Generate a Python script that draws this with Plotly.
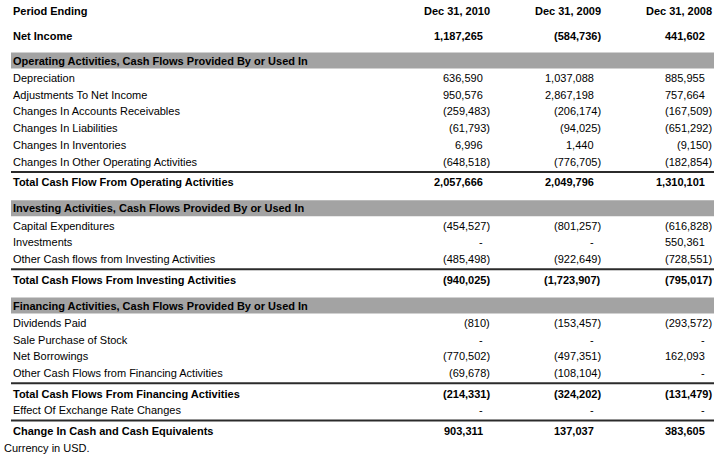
import plotly.graph_objects as go

# column headers and values, in thousands of USD
PERIODS = ["Dec 31, 2010", "Dec 31, 2009", "Dec 31, 2008"]

NET_INCOME = [1187265, -584736, 441602]

OPERATING_LABELS = [
    "Depreciation",
    "Adjustments To Net Income",
    "Changes In Accounts Receivables",
    "Changes In Liabilities",
    "Changes In Inventories",
    "Changes In Other Operating Activities",
]
OPERATING_VALUES = [
    [636590, 1037088, 885955],
    [950576, 2867198, 757664],
    [-259483, -206174, -167509],
    [-61793, -94025, -651292],
    [6996, 1440, -9150],
    [-648518, -776705, -182854],
]
OPERATING_TOTAL = [2057666, 2049796, 1310101]

INVESTING_LABELS = [
    "Capital Expenditures",
    "Investments",
    "Other Cash flows from Investing Activities",
]
INVESTING_VALUES = [
    [-454527, -801257, -616828],
    [None, None, 550361],
    [-485498, -922649, -728551],
]
INVESTING_TOTAL = [-940025, -1723907, -795017]

FINANCING_LABELS = [
    "Dividends Paid",
    "Sale Purchase of Stock",
    "Net Borrowings",
    "Other Cash Flows from Financing Activities",
]
FINANCING_VALUES = [
    [-810, -153457, -293572],
    [None, None, None],
    [-770502, -497351, 162093],
    [-69678, -108104, None],
]
FINANCING_TOTAL = [-214331, -324202, -131479]

EXCHANGE_EFFECT = [None, None, None]
CHANGE_IN_CASH = [903311, 137037, 383605]

W, H = 725, 461
FONT = "Liberation Sans, Arial, Helvetica, sans-serif"
BAR_GRAY = "#A3A3A3"
RULE = "#2B2B2B"

LABEL_X = 13
NOTE_X = 4
LEFT, RIGHT = 11, 714
COL_RIGHT = [490, 601, 712]  # right edge of ")" in each column
POS_SHIFT = 7  # positives sit left of the closing paren

GAPS = {
    ("head", "net"): 24.5,
    ("net", "section"): 25,
    ("section", "item"): 17.3,
    ("item", "item"): 16.8,
    ("item", "total"): 20.4,
    ("total", "section"): 26,
    ("total", "item"): 16.8,
    ("total", "note"): 17.5,
}


def fmt(v):
    if v is None:
        return "-"
    if v < 0:
        return "({:,})".format(-v)
    return "{:,}".format(v)


rows = [("head", "Period Ending", PERIODS), ("net", "Net Income", NET_INCOME)]
for title, labels, values, total_label, total in [
    ("Operating Activities, Cash Flows Provided By or Used In",
     OPERATING_LABELS, OPERATING_VALUES,
     "Total Cash Flow From Operating Activities", OPERATING_TOTAL),
    ("Investing Activities, Cash Flows Provided By or Used In",
     INVESTING_LABELS, INVESTING_VALUES,
     "Total Cash Flows From Investing Activities", INVESTING_TOTAL),
    ("Financing Activities, Cash Flows Provided By or Used In",
     FINANCING_LABELS, FINANCING_VALUES,
     "Total Cash Flows From Financing Activities", FINANCING_TOTAL),
]:
    rows.append(("section", title, None))
    rows += [("item", l, v) for l, v in zip(labels, values)]
    rows.append(("total", total_label, total))
rows.append(("item", "Effect Of Exchange Rate Changes", EXCHANGE_EFFECT))
rows.append(("total", "Change In Cash and Cash Equivalents", CHANGE_IN_CASH))
rows.append(("note", "Currency in USD.", None))

fig = go.Figure()
annotations = []
shapes = []
y = 11
prev = None
for kind, label, values in rows:
    if prev is not None:
        y += GAPS[(prev, kind)]
    prev = kind
    bold = kind in ("head", "net", "section", "total")
    if kind == "section":
        shapes.append(dict(type="rect", xref="x", yref="y", x0=LEFT, x1=RIGHT,
                           y0=y - 8, y1=y + 8, fillcolor=BAR_GRAY,
                           line_width=0, layer="below"))
    if kind == "total":
        shapes.append(dict(type="line", xref="x", yref="y", x0=LEFT, x1=RIGHT,
                           y0=y - 10.3, y1=y - 10.3,
                           line=dict(color=RULE, width=2)))
    annotations.append(dict(
        x=NOTE_X if kind == "note" else LABEL_X, y=y, xref="x", yref="y",
        text="<b>%s</b>" % label if bold else label,
        showarrow=False, xanchor="left", yanchor="middle",
        borderpad=0, borderwidth=0,
    ))
    if values is None:
        continue
    for i, v in enumerate(values):
        if kind == "head":
            text, x = v, COL_RIGHT[i]
        else:
            text = fmt(v)
            x = COL_RIGHT[i] if (v is not None and v < 0) else COL_RIGHT[i] - POS_SHIFT
        annotations.append(dict(
            x=x, y=y, xref="x", yref="y",
            text="<b>%s</b>" % text if bold else text,
            showarrow=False, xanchor="right", yanchor="middle",
            borderpad=0, borderwidth=0,
        ))

fig.update_layout(
    width=W,
    height=H,
    margin=dict(l=0, r=0, t=0, b=0),
    paper_bgcolor="white",
    plot_bgcolor="white",
    font=dict(family=FONT, size=11, color="#000000"),
    xaxis=dict(range=[0, W], visible=False, fixedrange=True),
    yaxis=dict(range=[H, 0], visible=False, fixedrange=True),
    annotations=annotations,
    shapes=shapes,
    showlegend=False,
)
# the page's default 8px body margin would push the table off the window
fig.write_html(
    "out.html",
    config={"displayModeBar": False},
    post_script="document.body.style.margin = '0';",
)
